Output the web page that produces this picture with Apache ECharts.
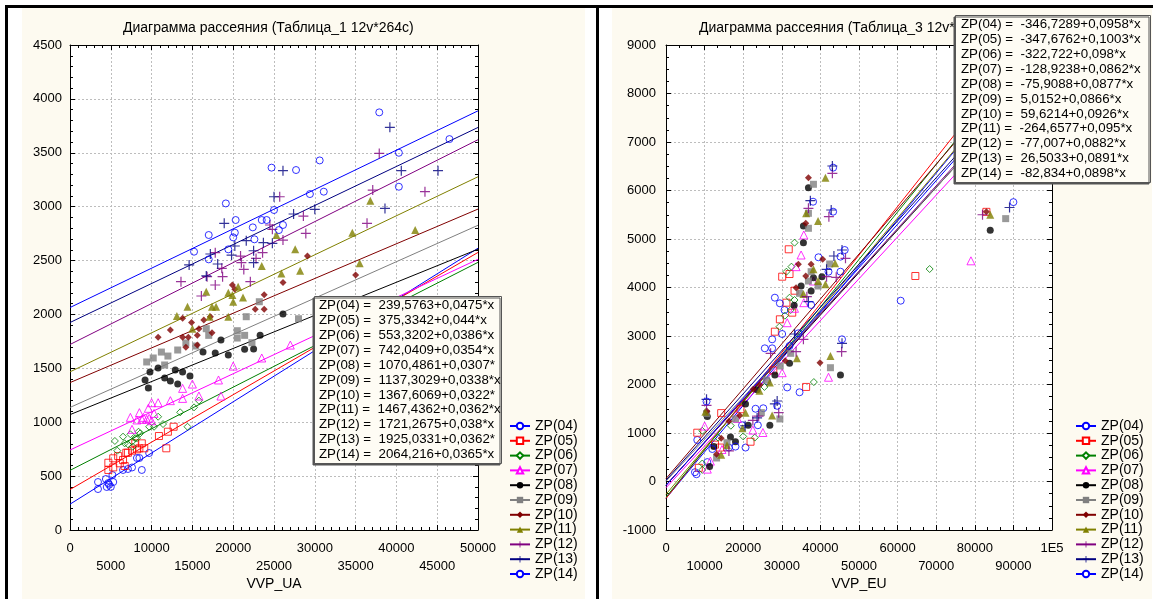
<!DOCTYPE html>
<html><head><meta charset="utf-8">
<script src="https://cdn.jsdelivr.net/npm/echarts@6/dist/echarts.min.js"></script>
<style>html,body{margin:0;padding:0;background:#fff}#c{width:1159px;height:599px}</style>
</head><body><div id="c"></div>
<script>
// ---------------- DATA ----------------
const names = ['ZP(04)','ZP(05)','ZP(06)','ZP(07)','ZP(08)','ZP(09)','ZP(10)','ZP(11)','ZP(12)','ZP(13)','ZP(14)'];
const uaIntercepts = [239.5763, 375.3342, 553.3202, 742.0409, 1070.4861, 1137.3029, 1367.6069, 1467.4362, 1721.2675, 1925.0331, 2064.216];
const uaSlopes     = [0.0475, 0.044, 0.0386, 0.0354, 0.0307, 0.0338, 0.0322, 0.0362, 0.038, 0.0362, 0.0365];
const euIntercepts = [-346.7289, -347.6762, -322.722, -128.9238, -75.9088, 5.0152, 59.6214, -264.6577, -77.007, 26.5033, -82.834];
const euSlopes     = [0.0958, 0.1003, 0.098, 0.0862, 0.0877, 0.0866, 0.0926, 0.095, 0.0882, 0.0891, 0.0898];

const UA_ZP04 = [[3430,445],[3430,380],[4400,473],[4700,436],[4500,399],[5200,510],[5300,445],[6500,557],[7100,566],[8200,668],[8500,668],[8800,557],[9700,714],[4800,420],[5000,400],[7600,580]];
const UA_ZP05 = [[4700,624],[5300,665],[5300,581],[5900,686],[6100,619],[6500,649],[6900,717],[6700,594],[7100,717],[7600,736],[8000,804],[8200,748],[8500,758],[8800,804],[9100,758],[10900,872],[11800,758],[12000,912],[12700,958],[4700,557]];
const UA_ZP06 = [[5500,826],[6500,866],[5800,736],[6700,804],[7100,795],[7600,819],[8000,851],[7700,773],[8200,851],[8400,912],[8600,897],[9700,958],[10300,958],[10800,1051],[11400,983],[13500,1092],[14400,958],[15200,1138],[15800,1200],[7400,888]];
const UA_ZP07 = [[7400,1045],[7600,934],[8200,1021],[8500,1089],[8800,1027],[9000,1045],[9400,1027],[9700,1036],[10000,1014],[9600,1129],[10000,1181],[10300,1082],[10800,1181],[12300,1200],[13800,1221],[13800,1314],[15000,1354],[15800,1243],[18200,1392],[18500,1243],[20000,1521],[23500,1596],[27000,1716]];
const UA_ZP08 = [[9200,1392],[9800,1466],[10800,1503],[11600,1410],[12900,1484],[13800,1466],[14700,1429],[16300,1652],[17800,1642],[19400,1624],[18500,1763],[21400,1677],[22500,1679],[23300,1806],[26100,2004],[9600,1318],[12300,1382],[13200,1354]];
const UA_ZP09 = [[9400,1559],[10200,1596],[11200,1651],[12000,1614],[13200,1670],[14200,1735],[15400,1707],[11600,1531],[16700,1868],[17000,1806],[20500,1849],[20500,1781],[21400,1806],[21600,1979],[23200,2118],[22300,1738],[28000,1960]];
const UA_ZP10 = [[10800,1788],[12300,1855],[13800,1964],[13800,1788],[14500,1788],[14900,1925],[15600,1806],[15800,1868],[16400,1948],[17200,1979],[17400,1831],[15600,1716],[14200,1695],[19900,2273],[20200,2233],[22700,2048],[23800,2183],[23800,2048],[26100,2296],[29100,2542],[35000,2366]];
const UA_ZP11 = [[14400,2072],[13100,1985],[15000,1868],[16700,2211],[17100,1979],[17400,2072],[17900,2072],[19400,2202],[19900,2180],[20000,2118],[20600,2258],[21200,2158],[19400,1979],[23500,2449],[25300,2737],[25900,2381],[27600,2604],[28200,2406],[34600,2759],[35500,2474],[36800,3055],[42300,2783]];
const UA_ZP12 = [[13600,2304],[16100,2171],[16800,2350],[17800,2573],[17800,2273],[18600,2428],[18700,2350],[20900,2542],[21000,2480],[21300,2418],[22100,2304],[22800,2520],[23600,2573],[24500,2830],[24800,2790],[25700,3092],[26100,2690],[28600,2913],[28900,2752],[36400,2845],[37100,3154],[37900,3494],[43500,3139]];
const UA_ZP13 = [[14600,2459],[16700,2357],[17200,2561],[18100,2468],[18900,2845],[19800,2551],[20200,2635],[21600,2684],[22500,2591],[22500,2480],[23700,2666],[24800,2660],[25000,3092],[26100,3334],[27400,2932],[30000,2975],[38600,2984],[39200,3736],[40600,3334],[45100,3334]];
const UA_ZP14 = [[15200,2582],[17000,2737],[17000,2511],[19100,3030],[19400,2604],[20000,2715],[20200,2759],[20300,2876],[22400,2808],[22600,2697],[23500,2876],[24100,2876],[24700,3362],[25000,2969],[25600,2783],[26100,2830],[27700,3340],[29400,3117],[30600,3429],[31100,3139],[37900,3875],[40300,3500],[40300,3185],[46500,3627]];

const EU_ZP04 = [[7500,192],[8100,856],[10700,400],[16300,700],[20600,700],[19700,1160],[25200,1510],[26200,2070],[27500,2932],[28200,3790],[30700,3536],[34300,3056],[39500,4623],[45200,4636],[45200,4326],[38100,5769],[43300,6471],[60800,3728]];
const EU_ZP05 = [[8500,282],[8100,1006],[12700,760],[14000,700],[14300,1410],[19300,1490],[21900,820],[27800,2290],[36300,1950],[28200,3089],[29500,3344],[32700,3481],[31200,3687],[33300,3934],[30100,4223],[32000,4278],[31800,4788],[64600,4237],[83000,5560]];
const EU_ZP06 = [[9400,1045],[9400,371],[9400,240],[13500,905],[20000,930],[23000,905],[38300,2050],[29400,3192],[30800,3419],[32300,3536],[33300,3742],[32000,3790],[31200,4326],[32500,4430],[33300,4924],[68300,4381],[16800,1150],[25500,1950]];
const EU_ZP07 = [[10000,1144],[10700,255],[11500,420],[14500,660],[22500,1060],[25100,1010],[42100,2150],[30100,2243],[31400,3274],[33300,3571],[35700,3687],[38200,4134],[33700,4430],[35000,4670],[35700,5083],[79000,4550],[18500,1300]];
const EU_ZP08 = [[10700,1340],[11300,309],[12400,720],[16700,920],[18000,820],[21300,1160],[26900,1160],[20600,1600],[23600,1890],[28200,2196],[32000,2437],[33200,3633],[35000,4031],[37600,3928],[38200,4202],[40400,4223],[35600,4924],[35600,5268],[36900,6058],[45200,2196],[84000,5180]];
const EU_ZP09 = [[10500,1400],[13100,485],[15800,800],[18000,1290],[24700,1420],[29500,1290],[26000,2090],[29600,2381],[32300,2643],[34600,3880],[36900,4134],[37600,4326],[39400,4031],[42400,4485],[36900,5221],[36900,5530],[38200,6128],[42600,2346],[88000,5420]];
const EU_ZP10 = [[13100,560],[14300,890],[16300,1240],[19100,1360],[22600,1900],[24300,1990],[30900,2490],[39900,2449],[33700,3996],[34300,4478],[36200,4237],[37600,4478],[40600,4582],[36200,5324],[36900,6264],[83000,5560],[10600,1450]];
const EU_ZP11 = [[10200,1440],[14300,550],[15800,750],[19800,1100],[20600,1420],[27500,1360],[24200,1870],[26900,2040],[33900,2540],[42600,2588],[35600,3866],[39400,4134],[38200,4375],[41300,4066],[43800,4499],[39400,5371],[36300,5530],[41300,6264],[84000,5500]];
const EU_ZP12 = [[10500,1570],[16300,630],[22500,1260],[29200,1420],[24000,1350],[27100,2643],[33700,2676],[35600,2932],[45500,2676],[36500,3811],[41600,4223],[44100,4210],[46500,4602],[42200,5461],[36900,5633],[43100,6354],[82000,5500]];
const EU_ZP13 = [[10500,1694],[23600,1310],[28200,1600],[28800,1660],[33300,3041],[36900,3708],[41600,4375],[43500,4650],[45600,4773],[45600,2849],[42800,5598],[37400,5790],[43100,6505],[20500,1150],[89000,5650]];
const EU_ZP14 = [[7900,150],[10500,1650],[12000,670],[18000,720],[23800,1160],[23200,1500],[28800,1560],[31400,1940],[34600,1840],[25600,2746],[27500,2746],[30100,3041],[29500,3674],[32000,2794],[37600,3639],[42100,4326],[46300,4773],[45600,2932],[43300,5563],[90000,5760]];

const uaData = [UA_ZP04,UA_ZP05,UA_ZP06,UA_ZP07,UA_ZP08,UA_ZP09,UA_ZP10,UA_ZP11,UA_ZP12,UA_ZP13,UA_ZP14];
const euData = [EU_ZP04,EU_ZP05,EU_ZP06,EU_ZP07,EU_ZP08,EU_ZP09,EU_ZP10,EU_ZP11,EU_ZP12,EU_ZP13,EU_ZP14];

// ---------------- STYLE ----------------
const FONT = '"Liberation Sans", Arial, sans-serif';
const CREAM = '#FDFAF0';
const PLUS = 'path://M0,4.4H10V5.6H0Z M4.4,0H5.6V10H4.4Z';
const colors  = ['#0000FF','#FF0000','#008000','#FF00FF','#000000','#808080','#800000','#808000','#800080','#000080','#0000FF'];
const shapes  = ['circle','rect','diamond','triangle','circle','rect','diamond','triangle',PLUS,PLUS,'circle'];
const hollow  = [true,true,true,true,false,false,false,false,false,false,true];
const sizes   = [7,7,7,8,7,7,7,8,10,10,7];

function fmtNum(v){ return String(v).replace('.', ','); }
function eqText(ints, slopes){
  return names.map((n,i)=> n + ' =  ' + fmtNum(ints[i]) + '+' + fmtNum(slopes[i]) + '*x').join('\n');
}

const axisLineStyle = {show:true, onZero:false, lineStyle:{color:'#000', width:1}};
const splitLineStyle = {show:true, lineStyle:{color:'#bdbdbd', type:[2,2], width:1}};
const labelBase = {color:'#000', fontSize:13, fontFamily:FONT};

function mkX(grid, min, max, interval, minorN, name, fmt, pos){
  const main = pos === 'bottom';
  return {
    gridIndex:grid, type:'value', min:min, max:max, interval:interval, position:pos,
    axisLine:axisLineStyle,
    axisTick:{show:true, inside:true, length:5, lineStyle:{color:'#000'}},
    minorTick:{show:true, splitNumber:minorN, length:3, lineStyle:{color:'#000'}},
    splitLine: main ? splitLineStyle : {show:false},
    axisLabel: main ? Object.assign({}, labelBase, {margin:9, lineHeight:18, formatter:fmt}) : {show:false},
    name: main ? name : '', nameLocation:'middle', nameGap:47, nameMoveOverlap:false,
    nameTextStyle:{color:'#000', fontSize:14, fontFamily:FONT}
  };
}
function mkY(grid, min, max, interval, minorN, pos, margin){
  const main = pos === 'left';
  return {
    gridIndex:grid, type:'value', min:min, max:max, interval:interval, position:pos,
    axisLine:axisLineStyle,
    axisTick:{show:true, inside:true, length:5, lineStyle:{color:'#000'}},
    minorTick:{show:true, splitNumber:minorN, length:3, lineStyle:{color:'#000'}},
    splitLine: main ? splitLineStyle : {show:false},
    axisLabel: main ? Object.assign({}, labelBase, {margin:margin, formatter: v => String(v)}) : {show:false}
  };
}

const uaFmt = v => ((v/5000)%2===1 ? '\n' : '') + String(v);
const euFmt = v => (v===100000 ? '1E5' : (((v/10000)%2===1 ? '\n' : '') + String(v)));

const series = [];
names.forEach((n,i)=>{
  const col = colors[i];
  const lineSym = hollow[i] ? ('empty' + shapes[i]) : shapes[i];
  [[0,0,50000,uaIntercepts,uaSlopes],[2,2,100000,euIntercepts,euSlopes]].forEach(([xi,yi,xmax,ints,sl])=>{
    series.push({
      type:'line', name:n, xAxisIndex:xi, yAxisIndex:yi, z:2,
      data:[[0, ints[i]], [xmax, ints[i] + sl[i]*xmax]],
      showSymbol:false, symbol:lineSym, symbolSize:7, clip:true,
      lineStyle:{color:col, width:1}, itemStyle:{color:col},
      emphasis:{disabled:true}, silent:true
    });
  });
});
names.forEach((n,i)=>{
  const col = colors[i];
  const itemStyle = hollow[i] ? {color:'rgba(0,0,0,0)', borderColor:col, borderWidth:1} : {color:col};
  [[0,0,uaData[i]],[2,2,euData[i]]].forEach(([xi,yi,d])=>{
    series.push({
      type:'scatter', name:n, xAxisIndex:xi, yAxisIndex:yi, z:3,
      data:d, symbol:shapes[i], symbolSize:sizes[i], itemStyle:itemStyle,
      emphasis:{disabled:true}, silent:true
    });
  });
});

const legendBase = {
  orient:'vertical', top:414, itemWidth:20, itemHeight:8, itemGap:0.8, data:names,
  selectedMode:false, textStyle:{color:'#000', fontSize:14, fontFamily:FONT}
};
const eqBox = {
  backgroundColor:'#FEFCF4', borderColor:'#555', borderWidth:1,
  shadowColor:'#555', shadowBlur:0, shadowOffsetX:-1.5, shadowOffsetY:1.5, z:10
};
const eqTextStyle = {color:'#000', fontSize:13.3, fontWeight:'normal', lineHeight:14.9, fontFamily:FONT};

const option = {
  animation:false,
  backgroundColor:'#fff',
  graphic:[
    {type:'rect', z:-100, shape:{x:22,y:8,width:563,height:591}, style:{fill:CREAM}},
    {type:'rect', z:-100, shape:{x:612,y:8,width:540,height:591}, style:{fill:CREAM}},
    {type:'rect', z:-99, shape:{x:5,y:5,width:1148,height:3}, style:{fill:'#000'}},
    {type:'rect', z:-99, shape:{x:5,y:5,width:3,height:594}, style:{fill:'#000'}},
    {type:'rect', z:-99, shape:{x:596,y:5,width:3,height:594}, style:{fill:'#000'}}
  ],
  title:[
    {text:'Диаграмма рассеяния (Таблица_1 12v*264c)', left:123, top:21, padding:0,
     textStyle:{color:'#000', fontSize:14, fontWeight:'normal', fontFamily:FONT}},
    {text:'Диаграмма рассеяния (Таблица_3 12v*264c)', left:699, top:21, padding:0,
     textStyle:{color:'#000', fontSize:14, fontWeight:'normal', fontFamily:FONT}},
    Object.assign({}, eqBox, {text:eqText(uaIntercepts, uaSlopes), left:314, top:296, padding:[2,0,2,5],
      textStyle:Object.assign({}, eqTextStyle, {width:183, overflow:'truncate', ellipsis:''})}),
    Object.assign({}, eqBox, {text:eqText(euIntercepts, euSlopes), left:955, top:15, padding:[2,4,2,6],
      textStyle:Object.assign({}, eqTextStyle, {width:186})})
  ],
  legend:[
    Object.assign({}, legendBase, {left:504}),
    Object.assign({}, legendBase, {left:1070})
  ],
  grid:[
    {left:70, top:45, width:408, height:485, show:true, backgroundColor:'#fff', borderWidth:0, outerBoundsMode:'none', containLabel:false},
    {left:666, top:45, width:386, height:485, show:true, backgroundColor:'#fff', borderWidth:0, outerBoundsMode:'none', containLabel:false}
  ],
  xAxis:[
    mkX(0, 0, 50000, 5000, 5, 'VVP_UA', uaFmt, 'bottom'),
    mkX(0, 0, 50000, 5000, 5, '', null, 'top'),
    mkX(1, 0, 100000, 10000, 3, 'VVP_EU', euFmt, 'bottom'),
    mkX(1, 0, 100000, 10000, 3, '', null, 'top')
  ],
  yAxis:[
    mkY(0, 0, 4500, 500, 5, 'left', 8),
    mkY(0, 0, 4500, 500, 5, 'right', 8),
    mkY(1, -1000, 9000, 1000, 4, 'left', 10),
    mkY(1, -1000, 9000, 1000, 4, 'right', 10)
  ],
  series:series
};

const chart = echarts.init(document.getElementById('c'));
chart.setOption(option);
</script>
</body></html>
